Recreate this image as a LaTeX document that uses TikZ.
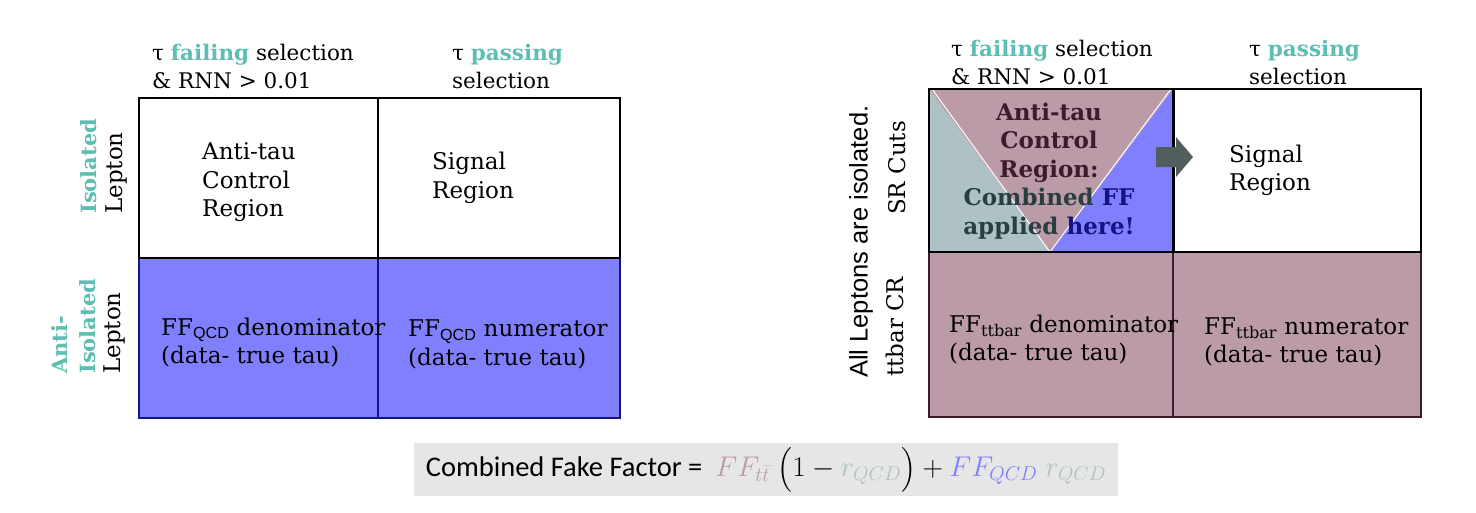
\documentclass[tikz,border=0pt]{standalone}
\usepackage{fix-cm}
\usepackage{amsmath}
\usepackage{fontspec}
\setmainfont{DejaVu Serif}
\setsansfont{Liberation Sans}
\newfontfamily\calfont{Carlito}
\usepackage{tikz}
\usetikzlibrary{positioning}

\definecolor{tealhl}{RGB}{94,190,178}
\definecolor{qcdblue}{RGB}{128,128,255}
\definecolor{ttmauve}{RGB}{188,155,168}
\definecolor{rgrey}{RGB}{174,194,198}
\definecolor{darkblue}{RGB}{20,20,130}
\definecolor{darkmaroon}{RGB}{62,26,42}
\definecolor{darkslate}{RGB}{40,62,64}
\definecolor{boxgrey}{RGB}{230,230,230}
\definecolor{arrowgrey}{RGB}{82,94,94}

\newcommand\cellfont{\fontsize{23}{28.5}\selectfont}
\newcommand\hl[1]{\textbf{\color{tealhl}#1}}

\begin{document}
\begin{tikzpicture}[x=1pt,y=-1pt,
	celltext/.style={font=\cellfont, align=left, anchor=west, inner sep=0pt},
	sidetext/.style={font=\cellfont, align=left, anchor=west, inner sep=0pt, rotate=90}]
	\useasboundingbox (0,0) rectangle (1476,512);
	% left grid
	\fill[qcdblue] (139,258) rectangle (620,418);
	\draw[darkblue, line width=1.5pt] (139,258) rectangle (620,418);
	\draw[darkblue, line width=1.2pt] (378,258) -- (378,418);
	\draw[line width=2pt] (139,98) rectangle (620,258);
	\draw[line width=1.2pt] (378,98) -- (378,258);
	% right grid
	\fill[ttmauve] (929,252) rectangle (1421,417);
	\draw[darkmaroon, line width=1.5pt] (929,252) rectangle (1421,417);
	\draw[darkmaroon, line width=1.2pt] (1173,252) -- (1173,417);
	\fill[rgrey] (929,89) -- (1050,252) -- (929,252) -- cycle;
	\fill[ttmauve] (929,89) -- (1173,89) -- (1050,252) -- cycle;
	\fill[qcdblue] (1173,89) -- (1173,252) -- (1050,252) -- cycle;
	\draw[white, line width=1pt] (932,89) -- (1050,252) -- (1171,89);
	\draw[line width=2pt] (929,89) rectangle (1421,252);
	\draw[line width=3pt] (1173,89) -- (1173,252);
	% block arrow
	\fill[arrowgrey] (1156,147) -- (1176,147) -- (1176,137) -- (1193,157)
		-- (1176,177) -- (1176,167) -- (1156,167) -- cycle;

	% headers
	\node[celltext, font=\fontsize{21.5}{28}\selectfont] (failL) at (152,66) {τ \hl{failing} selection\\\& RNN > 0.01};
	\node[celltext, font=\fontsize{21.5}{28}\selectfont] (passL) at (452,66) {τ \hl{passing}\\selection};
	\node[celltext, font=\fontsize{21.5}{28}\selectfont] (failR) at (951,62) {τ \hl{failing} selection\\\& RNN > 0.01};
	\node[celltext, font=\fontsize{21.5}{28}\selectfont] (passR) at (1249,62) {τ \hl{passing}\\selection};

	% side labels
	\node[sidetext, font=\fontsize{21}{28}\selectfont\bfseries, text=tealhl] (isoL) at (89,214) {Isolated};
	\node[sidetext] (leptL) at (117,214) {Lepton};
	\node[sidetext, font=\fontsize{21}{28.5}\selectfont\bfseries, text=tealhl] (antiisoL) at (73.5,374) {Anti-\\Isolated};
	\node[sidetext] (leptAL) at (115,374) {Lepton};
	\node[sidetext, font=\sffamily\fontsize{25.5}{30}\selectfont] (allLep) at (861,378) {All Leptons are isolated.};
	\node[sidetext] (srCuts) at (897,215) {SR Cuts};
	\node[sidetext] (ttCR) at (895,377) {ttbar CR};

	% cells
	\node[celltext] (antitauL) at (202,182.5) {Anti-tau\\Control\\Region};
	\node[celltext] (signalL) at (432,178) {Signal\\Region};
	\node[celltext] (qcdDen) at (161,342.5) {FF\textsubscript{\sffamily QCD} denominator\\(data- true tau)};
	\node[celltext] (qcdNum) at (408,344.5) {FF\textsubscript{\sffamily QCD} numerator\\(data- true tau)};
	\node[font=\fontsize{23}{28.5}\selectfont\bfseries, align=center, inner sep=0pt, text=darkmaroon] (combCR) at (1049,171) {Anti-tau\\Control\\Region:\\\textcolor{darkslate}{Combined} \textcolor{darkblue}{FF}\\\textcolor{darkslate}{applied} \textcolor{darkblue}{here!}};
	\node[celltext] (signalR) at (1229,170.5) {Signal\\Region};
	\node[celltext] (ttDen) at (949,339.5) {FF\textsubscript{ttbar} denominator\\(data- true tau)};
	\node[celltext] (ttNum) at (1204,342) {FF\textsubscript{ttbar} numerator\\(data- true tau)};

	% formula
	\node[fill=boxgrey, minimum width=704pt, minimum height=53pt, inner sep=0pt] (formula) at (766,469.5) {\calfont\fontsize{28.5}{32}\selectfont Combined Fake Factor = \ ${\color{ttmauve}FF_{t\bar{t}}}\;\bigl(1-{\color{rgrey}r_{QCD}}\bigr)+{\color{qcdblue}FF_{QCD}}\;{\color{rgrey}r_{QCD}}$};
\end{tikzpicture}
\end{document}
